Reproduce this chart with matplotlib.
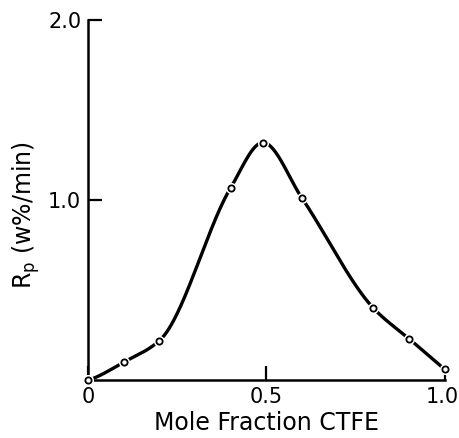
# Rp vs mole fraction CTFE
import numpy as np
import matplotlib
matplotlib.use('Agg')
import matplotlib.pyplot as plt
from matplotlib.transforms import ScaledTranslation

mole_frac = [0.0, 0.1, 0.2, 0.4, 0.49, 0.6, 0.8, 0.9, 1.0]
rp = [0.0, 0.10, 0.22, 1.07, 1.32, 1.01, 0.40, 0.23, 0.06]


def pchip_line(x, y, per_seg=60):
    # monotone cubic through the points, only used to draw the smooth curve
    x = np.asarray(x, float)
    y = np.asarray(y, float)
    n = len(x)
    h = np.diff(x)
    d = np.diff(y) / h
    m = np.zeros(n)
    for i in range(1, n - 1):
        if d[i - 1] * d[i] > 0:
            w1 = 2 * h[i] + h[i - 1]
            w2 = h[i] + 2 * h[i - 1]
            m[i] = (w1 + w2) / (w1 / d[i - 1] + w2 / d[i])
    m[0] = 0.6 * d[0]
    m[-1] = d[-1]
    xs, ys = [], []
    for i in range(n - 1):
        t = np.linspace(0, 1, per_seg)
        h00 = 2 * t**3 - 3 * t**2 + 1
        h10 = t**3 - 2 * t**2 + t
        h01 = -2 * t**3 + 3 * t**2
        h11 = t**3 - t**2
        xs.append(x[i] + t * h[i])
        ys.append(h00 * y[i] + h10 * h[i] * m[i] + h01 * y[i + 1] + h11 * h[i] * m[i + 1])
    return np.concatenate(xs), np.concatenate(ys)


xs, ys = pchip_line(mole_frac, rp)

fig = plt.figure(figsize=(4.59, 4.38), dpi=100)
ax = fig.add_axes([0.192, 0.132, 0.777, 0.822])

ax.plot(xs, ys, c='black', lw=2.4, solid_capstyle='round', zorder=2)
ax.plot(mole_frac, rp, ls='none', marker='o', ms=8, mfc='white', mec='white', mew=0, zorder=3, clip_on=False)
ax.plot(mole_frac, rp, ls='none', marker='o', ms=4.5, mfc='white', mec='black', mew=1.3, zorder=4, clip_on=False)

ax.set_xlim(0, 1.0)
ax.set_ylim(0, 2.0)
ax.set_xticks([0, 0.5, 1.0])
ax.set_xticklabels(['0', '0.5', '1.0'], fontsize=15)
ax.set_yticks([1.0, 2.0])
ax.set_yticklabels(['1.0', '2.0'], fontsize=15)
ax.tick_params(direction='in', length=10, width=1.6, pad=5)
# nudge the last x label so it stays inside the figure
last = ax.get_xticklabels()[-1]
last.set_transform(last.get_transform() + ScaledTranslation(-3 / 100, 0, fig.dpi_scale_trans))

ax.spines['top'].set_visible(False)
ax.spines['right'].set_visible(False)
ax.spines['left'].set_linewidth(1.8)
ax.spines['bottom'].set_linewidth(1.8)

ax.set_xlabel('Mole Fraction CTFE', fontsize=17, labelpad=3)
fig.text(0.058, 0.51, r'R$_\mathregular{p}$ (w%/min)', fontsize=17, rotation=90, ha='center', va='center')

fig.savefig('out.png', dpi=100)
